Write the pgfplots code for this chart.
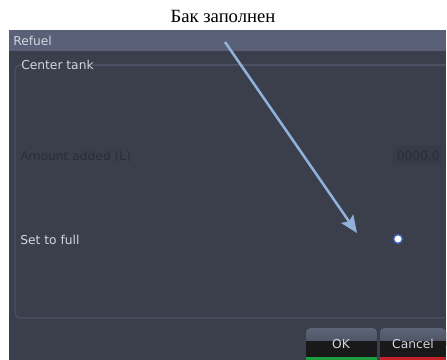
\documentclass[border=0pt]{standalone}
\usepackage{pgfplots}
\pgfplotsset{compat=1.18}
\usepackage{fontspec}
\setmainfont{Liberation Serif}
\newfontfamily\uifont{DejaVu Sans}
\usetikzlibrary{arrows.meta}

\definecolor{headbar}{HTML}{596078}
\definecolor{screenbg}{HTML}{3B3F4C}
\definecolor{panelline}{HTML}{4B5163}
\definecolor{uitext}{HTML}{D2D6DE}
\definecolor{dimtext}{HTML}{2A2D36}
\definecolor{arrowblue}{HTML}{90B2DA}
\definecolor{btntop}{HTML}{5E6478}
\definecolor{btnbot}{HTML}{454A5A}
\definecolor{okgreen}{HTML}{1E9E40}
\definecolor{cancelred}{HTML}{C4202A}
\definecolor{glow}{HTML}{3A62B8}

\begin{document}
\begin{tikzpicture}
\begin{axis}[
  scale only axis,
  width=335.25pt, height=270pt,
  xmin=0, xmax=447, ymin=0, ymax=360,
  y dir=reverse,
  hide axis,
  clip=false,
]
% page and screen
\fill[white] (0,0) rectangle (447,360);
\fill[screenbg] (9,30) rectangle (446,360);
\fill[headbar] (9,30) rectangle (446,51);
\node[anchor=base west, text=uitext, font=\uifont\fontsize{9.2}{11}\selectfont, inner sep=0pt] at (13,46) {Refuel};

% title
\node[anchor=base, font=\fontsize{14}{16}\selectfont, inner sep=0pt] at (223,23) {Бак заполнен};

% panel frame
\draw[panelline, line width=0.9pt] (92,65) -- (446,65);
\draw[panelline, line width=0.9pt, rounded corners=4pt] (19,65) -- (15,65) -- (15,318) -- (446,318);
\node[anchor=base west, text=uitext, font=\uifont\fontsize{9.2}{11}\selectfont, inner sep=0pt] at (21,70) {Center tank};

% dimmed amount row
\node[anchor=base west, text=dimtext, font=\uifont\fontsize{9.2}{11}\selectfont, inner sep=0pt] at (20,161) {Amount added (L)};
\fill[black!7!screenbg] (393,146) rectangle (441,165);
\node[anchor=base east, text=dimtext, font=\uifont\fontsize{9.2}{11}\selectfont, inner sep=0pt] at (440,161) {0000.0};

% set to full
\node[anchor=base west, text=uitext, font=\uifont\fontsize{9.2}{11}\selectfont, inner sep=0pt] at (20,244) {Set to full};

% buttons
\fill[rounded corners=3pt, top color=btntop, bottom color=btnbot] (306,328) rectangle (377,350);
\fill[black!90] (306,341) rectangle (377,357);
\fill[okgreen] (306,357) rectangle (377,360);
\node[text=uitext, font=\uifont\fontsize{9.2}{11}\selectfont, inner sep=0pt, anchor=base] at (341,348) {OK};
\fill[rounded corners=3pt, top color=btntop, bottom color=btnbot] (380,328) rectangle (446,350);
\fill[black!90] (380,341) rectangle (446,357);
\fill[cancelred] (380,357) rectangle (446,360);
\node[text=uitext, font=\uifont\fontsize{9.2}{11}\selectfont, inner sep=0pt, anchor=base] at (413,348) {Cancel};

% arrow and selection dot
\addplot[arrowblue, line width=1.9pt, -{Stealth[length=13pt, width=11pt, inset=2.5pt]}]
  coordinates {(225,42) (357,233)};
\addplot[only marks, mark=*, mark size=3.3pt, mark options={fill=white, draw=glow, line width=1.1pt}]
  coordinates {(398,239)};
\end{axis}
\end{tikzpicture}
\end{document}
